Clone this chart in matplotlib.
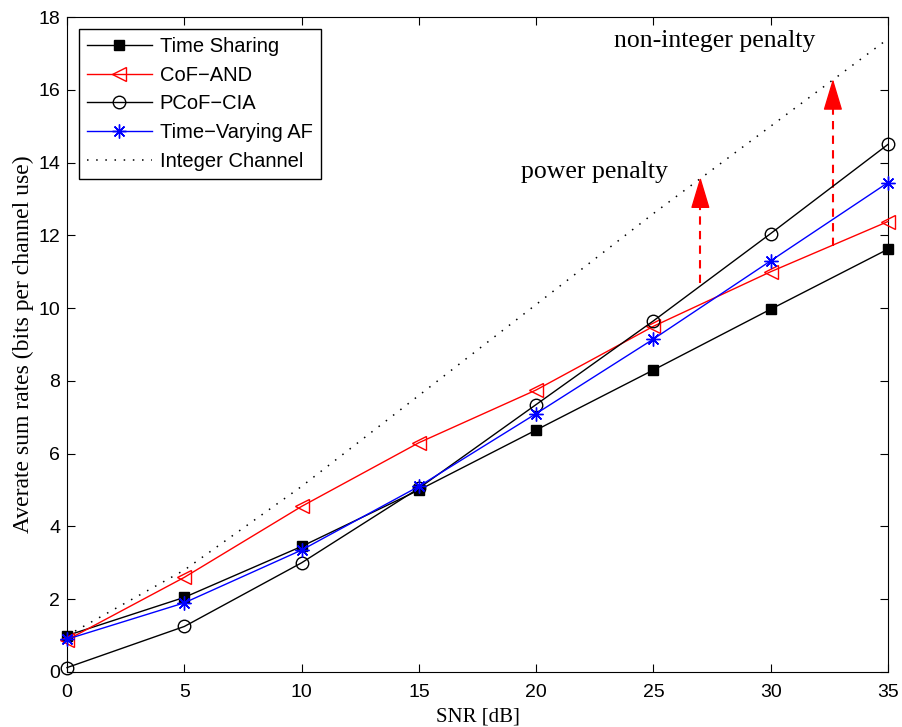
import matplotlib
matplotlib.use("Agg")
import matplotlib.pyplot as plt

snr = [0, 5, 10, 15, 20, 25, 30, 35]
time_sharing = [1.0, 2.05, 3.45, 5.0, 6.65, 8.3, 9.97, 11.62]
cof_and = [0.88, 2.6, 4.55, 6.3, 7.75, 9.5, 11.0, 12.38]
pcof_cia = [0.12, 1.25, 3.0, 5.05, 7.35, 9.65, 12.05, 14.5]
tv_af = [0.9, 1.9, 3.35, 5.1, 7.1, 9.15, 11.3, 13.45]
integer_ch = [1.0, 2.8, 5.1, 7.6, 10.1, 12.6, 15.0, 17.4]

arrow_x = [27.0, 32.65]
arrow_tail = [10.7, 11.7]
arrow_tip = [13.6, 16.3]

xticks = [0, 5, 10, 15, 20, 25, 30, 35]
yticks = [0, 2, 4, 6, 8, 10, 12, 14, 16, 18]

sans = ['Liberation Sans', 'DejaVu Sans']
serif = ['Liberation Serif', 'DejaVu Serif']

fig = plt.figure(figsize=(9.02, 7.27), dpi=100)
ax = fig.add_axes([0.0743, 0.0757, 0.9102, 0.9009])

ax.plot(snr, time_sharing, '-', color='black', lw=1, marker='s', ms=7.5,
        mfc='black', mec='black', label='Time Sharing', clip_on=False, zorder=3)
ax.plot(snr, cof_and, '-', color='red', lw=1, marker='<', ms=10,
        mfc='none', mec='red', label='CoF\u2212AND', clip_on=False, zorder=3)
ax.plot(snr, pcof_cia, '-', color='black', lw=1, marker='o', ms=9,
        mfc='none', mec='black', label='PCoF\u2212CIA', clip_on=False, zorder=3)
ax.plot(snr, tv_af, '-', color='blue', lw=1, marker=(8, 2, 0), ms=10,
        mfc='none', mec='blue', mew=1, label='Time\u2212Varying AF',
        clip_on=False, zorder=3)
ax.plot(snr, integer_ch, color='black', lw=1.1, ls=(0, (1, 5)),
        label='Integer Channel')

# penalty arrows: dashed shaft + solid head
head_len = 0.75
for x, t0, t1 in zip(arrow_x, arrow_tail, arrow_tip):
    ax.plot([x, x], [t0, t1 - head_len * 0.8], color='red', ls='--', lw=1.5,
            dashes=(4, 3))
    ax.annotate('', xy=(x, t1), xytext=(x, t1 - head_len),
                arrowprops=dict(arrowstyle='-|>,head_length=1.0,head_width=0.3',
                                mutation_scale=20, color='red', lw=1,
                                shrinkA=0, shrinkB=0))

ax.text(22.5, 13.75, 'power penalty', family=serif, fontsize=18.5,
        ha='center', va='center')
ax.text(27.6, 17.35, 'non-integer penalty', family=serif, fontsize=18.5,
        ha='center', va='center')

ax.set_xlim(0, 35)
ax.set_ylim(0, 18)
ax.set_xticks(xticks)
ax.set_yticks(yticks)
ax.tick_params(direction='in', top=True, right=True, length=6, labelsize=14)
ax.tick_params(axis='x', pad=9)
ax.tick_params(axis='y', pad=5)
for lab in ax.get_xticklabels() + ax.get_yticklabels():
    lab.set_family(sans)
ax.set_xlabel('SNR [dB]', family=serif, fontsize=15, labelpad=4)
ax.set_ylabel('Averate sum rates (bits per channel use)', family=serif,
              fontsize=17, labelpad=3)

leg = ax.legend(loc='upper left', prop={'family': sans, 'size': 14.5},
                fancybox=False, edgecolor='black', framealpha=1,
                handlelength=3.2, handletextpad=0.4, borderaxespad=0.6,
                borderpad=0.4, labelspacing=0.48)
leg.get_frame().set_linewidth(1)

fig.savefig('out.png', dpi=100)
